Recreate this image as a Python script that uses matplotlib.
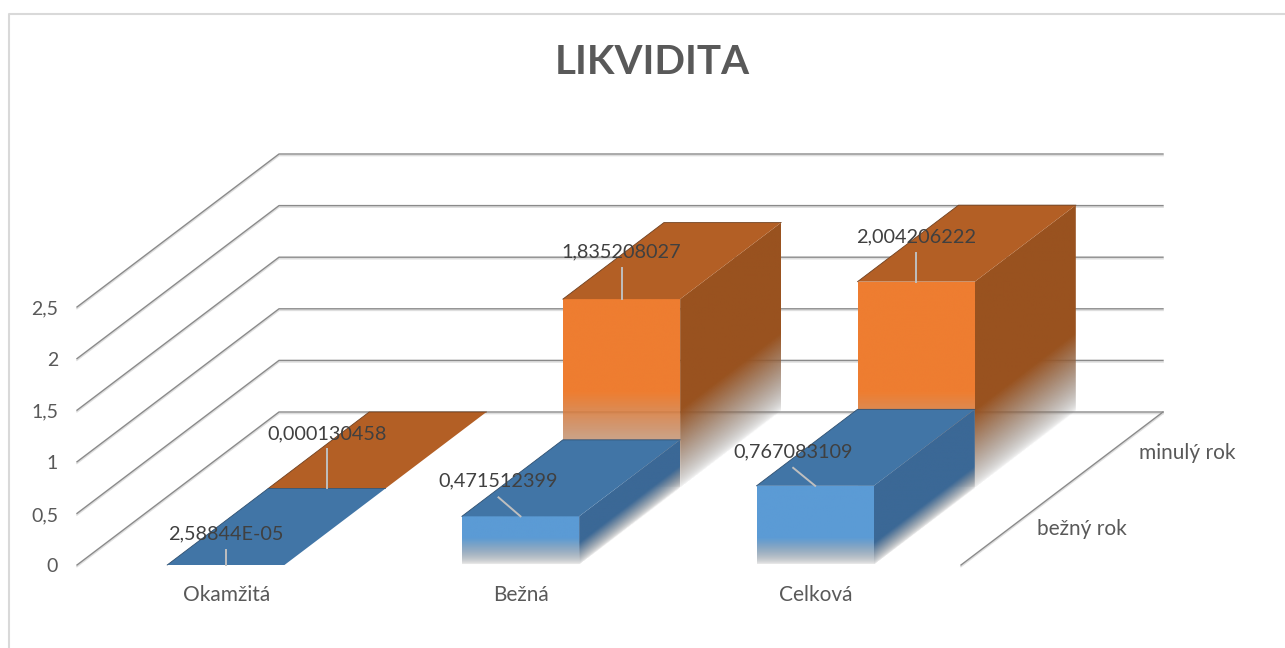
import numpy as np
import matplotlib
matplotlib.use('Agg')
import matplotlib.pyplot as plt
from matplotlib.patches import Polygon
from matplotlib.colors import to_rgb

plt.rcParams['font.family'] = ['Lato', 'DejaVu Sans']

title = 'LIKVIDITA'
categories = ['Okamžitá', 'Bežná', 'Celková']
series_names = ['bežný rok', 'minulý rok']
bezny_rok = [2.58844e-05, 0.471512399, 0.767083109]
minuly_rok = [0.000130458, 1.835208027, 2.004206222]
bezny_labels = ['2,58844E-05', '0,471512399', '0,767083109']
minuly_labels = ['0,000130458', '1,835208027', '2,004206222']
ticks = [0, 0.5, 1, 1.5, 2, 2.5]
tick_labels = ['0', '0,5', '1', '1,5', '2', '2,5']

# the fake 3d box, in pixels of the picture
X0, X1 = 77, 961
Y0 = 565
UNIT = 103.2
DEPTH_X, DEPTH_Y = 202, 153
BAR_W = 0.398
BAR_SHIFT = 1.5

GRID = '#8a8a8a'
GRID_SHADOW = '#dedede'
LEADER = '#bfbfbf'

blue = {'front': '#5b9bd5', 'side': '#3b6896', 'top': '#4175a6',
        'edge': '#2f4f6f', 'fade_front': 27, 'fade_side': 22}
orange = {'front': '#ee7d31', 'side': '#99521f', 'top': '#b35f25',
          'edge': '#6f4020', 'fade_front': 95, 'fade_side': 78}


def proj(cat, depth, val):
    # cat in category units, depth 0..1 front to back
    x = X0 + cat * (X1 - X0) / len(categories) + depth * DEPTH_X
    y = Y0 - depth * DEPTH_Y - val * UNIT
    return x, y


def grid_line(ax, xs, ys):
    ax.plot(xs, [y + 1.5 for y in ys], color=GRID_SHADOW, lw=1.2, zorder=1)
    ax.plot(xs, ys, color=GRID, lw=1.0, zorder=1.1)


def faded_face(ax, corners, color, fade, zorder):
    # corners: top left, top right, bottom right, bottom left
    # runs out through grey towards the bottom edge of the face
    pts = np.array(corners)
    xmin, xmax = pts[:, 0].min(), pts[:, 0].max()
    ymin, ymax = pts[:, 1].min(), pts[:, 1].max()
    if ymax - ymin < 1 or xmax - xmin < 1:
        return
    nx, ny = int(xmax - xmin) + 2, int(ymax - ymin) + 2
    xx, yy = np.meshgrid(np.linspace(xmin, xmax, nx), np.linspace(ymin, ymax, ny))
    (xb0, yb0), (xb1, yb1) = corners[3], corners[2]
    bottom = yb0 + (xx - xb0) / (xb1 - xb0) * (yb1 - yb0)
    a = np.clip((bottom - yy) / fade, 0, 1)
    rgba = np.zeros((ny, nx, 4))
    for k, c in enumerate(to_rgb(color)):
        rgba[..., k] = 0.5 + (c - 0.5) * a
    rgba[..., 3] = np.sqrt(a)
    im = ax.imshow(rgba, extent=(xmin, xmax, ymax, ymin), aspect='auto',
                   interpolation='bilinear', zorder=zorder)
    im.set_clip_path(Polygon(corners, closed=True, transform=ax.transData))


def draw_bar(ax, i, series, val, style, zorder):
    d0, d1 = series * 0.5, (series + 1) * 0.5
    left = i + 0.5 - BAR_W / 2
    right = i + 0.5 + BAR_W / 2

    def p(c, d, v):
        x, y = proj(c, d, v)
        return x + BAR_SHIFT, y

    side = [p(right, d0, val), p(right, d1, val), p(right, d1, 0), p(right, d0, 0)]
    faded_face(ax, side, style['side'], style['fade_side'], zorder)
    front = [p(left, d0, val), p(right, d0, val), p(right, d0, 0), p(left, d0, 0)]
    faded_face(ax, front, style['front'], style['fade_front'], zorder + 0.1)
    top = [p(left, d0, val), p(right, d0, val), p(right, d1, val), p(left, d1, val)]
    ax.add_patch(Polygon(top, closed=True, fc=style['top'], ec='none', zorder=zorder + 0.2))
    # darker rim on the left and back of the lid
    xs = [top[0][0], top[3][0], top[2][0]]
    ys = [top[0][1], top[3][1], top[2][1]]
    ax.plot(xs, ys, color=style['edge'], lw=0.6, zorder=zorder + 0.3)


def add_label(ax, i, series, val, text, dx, dy):
    # dx, dy: end of the leader relative to the middle of the bar's front edge
    x, y = proj(i + 0.5, series * 0.5, val)
    x += BAR_SHIFT
    ax.plot([x, x + dx], [y, y + dy], color=LEADER, lw=1.4, zorder=8)
    ax.text(x + dx, y + dy - 16, text, color='#404040', fontsize=14.3,
            ha='center', va='center', zorder=9)


fig = plt.figure(figsize=(12.85, 6.48), dpi=100)
ax = fig.add_axes([0, 0, 1, 1])
ax.axis('off')

# chart border, only top and left are in the crop
ax.plot([8.5, 8.5, 1285], [648, 13.5, 13.5], color='#d9d9d9', lw=1.5, zorder=0.5)

# walls
for t, lab in zip(ticks, tick_labels):
    x0, y0 = proj(0, 0, t)
    x1, y1 = proj(0, 1, t)
    x2, y2 = proj(len(categories), 1, t)
    grid_line(ax, [x0, x1, x2], [y0, y1, y2])
    ax.text(x0 - 19, y0 + 2, lab, color='#595959', fontsize=14,
            ha='right', va='center')

# right edge of the floor
xa, ya = proj(len(categories), 0, 0)
xb, yb = proj(len(categories), 1, 0)
grid_line(ax, [xa, xb], [ya, yb])

# back row first, front row over it
for i, v in enumerate(minuly_rok):
    draw_bar(ax, i, 1, v, orange, 2 + i)
for i, v in enumerate(bezny_rok):
    draw_bar(ax, i, 0, v, blue, 5 + i * 0.5)

add_label(ax, 0, 0, bezny_rok[0], bezny_labels[0], 0, -15)
add_label(ax, 1, 0, bezny_rok[1], bezny_labels[1], -22, -19)
add_label(ax, 2, 0, bezny_rok[2], bezny_labels[2], -22, -18)
add_label(ax, 0, 1, minuly_rok[0], minuly_labels[0], 0, -39)
add_label(ax, 1, 1, minuly_rok[1], minuly_labels[1], 0, -31)
add_label(ax, 2, 1, minuly_rok[2], minuly_labels[2], 0, -29)

for i, c in enumerate(categories):
    x, y = proj(i + 0.5, 0, 0)
    ax.text(x + 2, 595, c, color='#595959', fontsize=15, ha='center', va='center')

ax.text(1082, 529, series_names[0], color='#595959', fontsize=15, ha='center', va='center')
ax.text(1187, 453, series_names[1], color='#595959', fontsize=15, ha='center', va='center')

ax.text(652, 63, title, color='#595959', fontsize=29, fontweight='bold',
        ha='center', va='center')

ax.set_xlim(0, 1285)
ax.set_ylim(648, 0)
fig.savefig('out.png', dpi=100)
